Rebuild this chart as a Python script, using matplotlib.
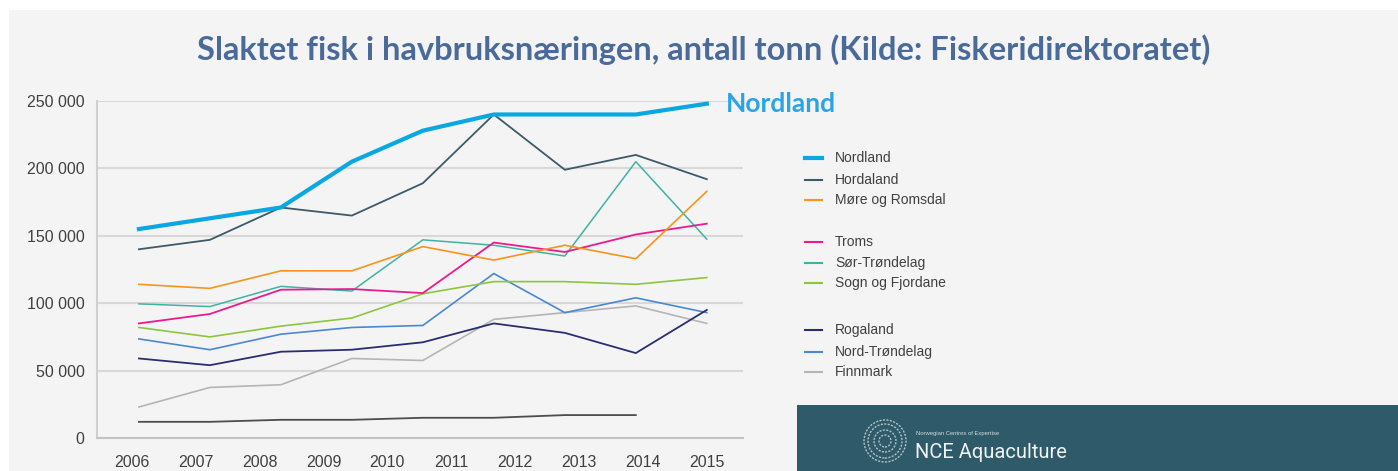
import matplotlib.pyplot as plt
from matplotlib.lines import Line2D
from matplotlib.patches import Rectangle, Ellipse
import numpy as np

years = ['2006', '2007', '2008', '2009', '2010', '2011', '2012', '2013', '2014', '2015']

# slaktet fisk, tonn (lest av figuren)
nordland = [155000, 163000, 171000, 205000, 228000, 240000, 240000, 240000, 248000]
hordaland = [140000, 147000, 171000, 165000, 189000, 240000, 199000, 210000, 192000]
more_romsdal = [114000, 111000, 124000, 124000, 142000, 132000, 143000, 133000, 183000]
troms = [85000, 92000, 110000, 110500, 107500, 145000, 138000, 151000, 159000]
sor_trondelag = [99500, 97500, 112500, 109000, 147000, 143000, 135000, 205000, 147500]
sogn_fjordane = [82000, 75000, 83000, 89000, 107000, 116000, 116000, 114000, 119000]
rogaland = [59000, 54000, 64000, 65500, 71000, 85000, 78000, 63000, 95000]
nord_trondelag = [73500, 65500, 77000, 82000, 83500, 122000, 93000, 104000, 93000]
finnmark = [23000, 37500, 39500, 59000, 57500, 88000, 93000, 98000, 85000]
ukjent = [12000, 12000, 13500, 13500, 15000, 15000, 17000, 17000]

W, H = 1398, 471
BG = '#f4f4f4'
TXT = '#404040'

plt.rcParams['font.family'] = ['Liberation Sans', 'DejaVu Sans']

fig = plt.figure(figsize=(W / 100, H / 100), dpi=100)
fig.patches.append(Rectangle((9 / W, 0), 1, (H - 10) / H, transform=fig.transFigure,
                             facecolor=BG, edgecolor='none', zorder=-10))


def fx(px):
    return px / W


def fy(py):
    return 1 - py / H


ax = fig.add_axes([fx(97), fy(438), fx(743) - fx(97), fy(101) - fy(438)])
ax.set_facecolor(BG)

x = np.arange(len(nordland))
series = [
    ('Nordland', nordland, '#0aa8e2', 3.0),
    ('Hordaland', hordaland, '#3d5a69', 1.3),
    ('Møre og Romsdal', more_romsdal, '#f7941d', 1.2),
    ('Troms', troms, '#ec1b8c', 1.3),
    ('Sør-Trøndelag', sor_trondelag, '#3fb3a1', 1.1),
    ('Sogn og Fjordane', sogn_fjordane, '#8cc63f', 1.2),
    ('Rogaland', rogaland, '#2b2e6e', 1.3),
    ('Nord-Trøndelag', nord_trondelag, '#4a88d2', 1.2),
    ('Finnmark', finnmark, '#b5b5b5', 1.2),
]

ax.plot(np.arange(len(ukjent)), ukjent, color='#4d4d4d', lw=1.3, zorder=2)
for i, (name, vals, col, lw) in enumerate(series):
    ax.plot(x, vals, color=col, lw=lw, zorder=10 - i if i else 20,
            solid_joinstyle='miter')

ax.set_ylim(0, 250000)
ax.set_xlim(-0.59, 8.51)
ax.set_yticks(np.arange(0, 250001, 50000))
ax.set_yticklabels([f'{v:,}'.replace(',', ' ') for v in range(0, 250001, 50000)])
ax.set_xticks(np.linspace(-0.1, 8, len(years)))
ax.set_xticklabels(years)
ax.tick_params(length=0, labelsize=11.5, labelcolor=TXT)
ax.tick_params(axis='y', pad=9)
ax.tick_params(axis='x', pad=12)
ax.grid(axis='y', color='#d8d8d8', lw=1.5)
ax.set_axisbelow(True)
for s in ['right', 'top']:
    ax.spines[s].set_visible(False)
ax.spines['left'].set_color('#d0d0d0')
ax.spines['bottom'].set_color('#c4c4c4')
ax.spines['left'].set_linewidth(1.5)
ax.spines['bottom'].set_linewidth(1.5)

fig.text(0.503, fy(50), 'Slaktet fisk i havbruksnæringen, antall tonn (Kilde: Fiskeridirektoratet)',
         ha='center', va='center', fontsize=23.5, fontweight='bold', color='#4a6a99',
         family=['Lato', 'DejaVu Sans'])

ax.annotate('Nordland', (x[-1], nordland[-1]), xytext=(14, 0), textcoords='offset points',
            ha='left', va='center', fontsize=19, fontweight='bold', color='#2aa4e6',
            family=['Lato', 'DejaVu Sans'], annotation_clip=False)

# legende i tre grupper
rows = [158, 180, 200, 242, 263, 283, 330, 352, 372]
for (name, vals, col, lw), ry in zip(series, rows):
    fig.add_artist(Line2D([fx(805), fx(822)], [fy(ry), fy(ry)], color=col,
                          lw=max(lw, 1.5), transform=fig.transFigure))
    fig.text(fx(835), fy(ry), name, ha='left', va='center', fontsize=10, color=TXT)

# NCE-banner
fig.patches.append(Rectangle((fx(797), 0), 1, fy(405), transform=fig.transFigure,
                             facecolor='#2f5a6a', edgecolor='none', zorder=5))
for r in [21, 17, 11, 6]:
    fig.patches.append(Ellipse((fx(885), fy(441)), 2 * r / W, 2 * r / H,
                               transform=fig.transFigure, facecolor='none',
                               edgecolor='#c9d6da', lw=1.0, ls=(0, (1.5, 1)),
                               alpha=0.85, zorder=6))
fig.text(fx(916), fy(434), 'Norwegian Centres of Expertise', fontsize=4.2, color='#d0dcdf',
         ha='left', va='center', zorder=7)
fig.text(fx(915), fy(452), 'NCE Aquaculture', fontsize=14.5, color='#eef3f4',
         ha='left', va='center', zorder=7, family=['Roboto', 'DejaVu Sans'])

fig.savefig('out.png', dpi=100, facecolor='white')
